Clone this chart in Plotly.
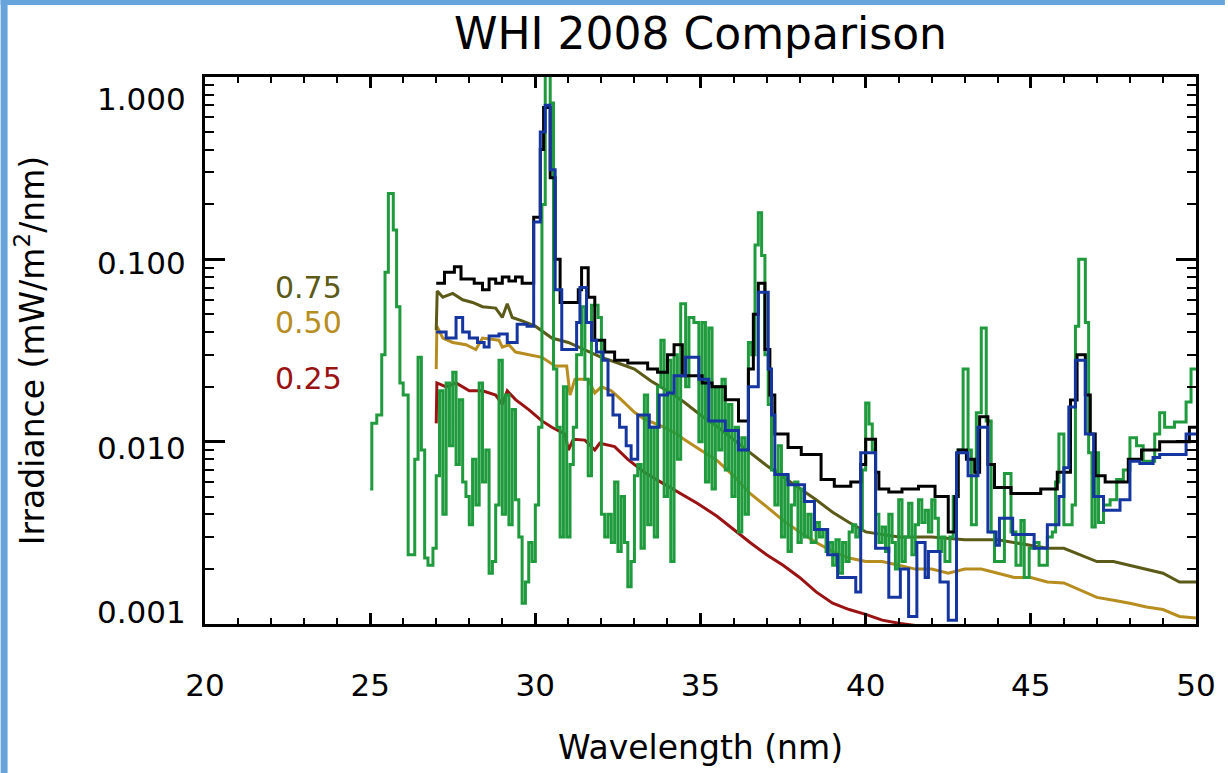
import math
import plotly.graph_objects as go

# ---------------- data ----------------
green_wl = [25.00, 25.05, 25.20, 25.35, 25.45, 25.55, 25.70, 25.80, 25.90, 26.00,
            26.15, 26.35, 26.45, 26.55, 26.65, 26.75, 26.90, 27.00, 27.10, 27.20,
            27.30, 27.40, 27.50, 27.60, 27.70, 27.80, 27.90, 28.00, 28.10, 28.20,
            28.30, 28.40, 28.50, 28.60, 28.70, 28.80, 28.90, 29.00, 29.10, 29.20,
            29.30, 29.40, 29.50, 29.60, 29.70, 29.80, 29.90, 30.00, 30.10, 30.20,
            30.30, 30.45, 30.55, 30.65, 30.75, 30.85, 30.95, 31.05, 31.15, 31.25,
            31.40, 31.50, 31.60, 31.70, 31.90, 32.00, 32.10, 32.20, 32.30, 32.40,
            32.50, 32.60, 32.70, 32.80, 32.90, 33.00, 33.10, 33.20, 33.30, 33.40,
            33.50, 33.60, 33.70, 33.80, 33.90, 34.00, 34.10, 34.20, 34.30, 34.40,
            34.55, 34.65, 34.80, 34.95, 35.05, 35.15, 35.25, 35.35, 35.45, 35.55,
            35.65, 35.75, 35.85, 35.95, 36.05, 36.15, 36.25, 36.35, 36.45, 36.55,
            36.65, 36.75, 36.85, 36.95, 37.05, 37.15, 37.25, 37.35, 37.45, 37.55,
            37.65, 37.75, 37.85, 37.95, 38.05, 38.15, 38.25, 38.35, 38.50, 38.60,
            38.70, 38.80, 38.90, 39.00, 39.10, 39.20, 39.30, 39.40, 39.50, 39.60,
            39.70, 39.80, 39.90, 40.00, 40.10, 40.20, 40.30, 40.40, 40.50, 40.60,
            40.70, 40.80, 40.90, 41.00, 41.10, 41.20, 41.30, 41.40, 41.50, 41.60,
            41.70, 41.80, 41.90, 42.00, 42.10, 42.20, 42.30, 42.40, 42.55, 42.65,
            42.80, 42.95, 43.10, 43.20, 43.35, 43.50, 43.65, 43.80, 43.90, 44.05,
            44.20, 44.40, 44.55, 44.70, 44.80, 44.95, 45.10, 45.25, 45.50, 45.65,
            45.75, 45.85, 46.00, 46.25, 46.35, 46.45, 46.65, 46.75, 46.85, 46.95,
            47.05, 47.20, 47.40, 47.60, 47.80, 48.00, 48.20, 48.40, 48.75, 48.90,
            49.05, 49.35, 49.70, 49.85, 50.00]
green_irr = [0.0055, 0.0126, 0.0140, 0.030, 0.085, 0.23, 0.145, 0.055, 0.021, 0.018,
             0.0024, 0.0080, 0.029, 0.0090, 0.0023, 0.0021, 0.0026, 0.0065, 0.019, 0.0040,
             0.021, 0.0095, 0.024, 0.0075, 0.017, 0.0060, 0.0050, 0.0035, 0.0080, 0.0045,
             0.021, 0.0060, 0.0090, 0.0019, 0.0022, 0.0045, 0.028, 0.0040, 0.018, 0.0035,
             0.0150, 0.0048, 0.0030, 0.0013, 0.0017, 0.0028, 0.0022, 0.0045, 0.012, 0.20,
             1.10, 0.72, 0.025, 0.012, 0.0030, 0.020, 0.0030, 0.0075, 0.012, 0.030,
             0.055, 0.022, 0.0065, 0.056, 0.048, 0.0040, 0.0030, 0.0040, 0.0028, 0.0060,
             0.0025, 0.0050, 0.0028, 0.0016, 0.0022, 0.0065, 0.0075, 0.0026, 0.018, 0.0035,
             0.012, 0.0030, 0.020, 0.036, 0.0050, 0.028, 0.0022, 0.030, 0.0080, 0.057,
             0.020, 0.048, 0.045, 0.010, 0.045, 0.0060, 0.042, 0.0055, 0.020, 0.0090,
             0.022, 0.0070, 0.016, 0.0050, 0.012, 0.0032, 0.0105, 0.0040, 0.035, 0.030,
             0.120, 0.18, 0.105, 0.030, 0.016, 0.0070, 0.0045, 0.0095, 0.0030, 0.0065,
             0.0025, 0.0045, 0.0060, 0.0028, 0.0055, 0.0030, 0.0040, 0.0028, 0.0036, 0.0030,
             0.0033, 0.0025, 0.0028, 0.0021, 0.0029, 0.0019, 0.0028, 0.0022, 0.0032, 0.0035,
             0.0030, 0.0033, 0.0070, 0.0163, 0.0125, 0.0090, 0.0040, 0.0028, 0.0034, 0.0025,
             0.0040, 0.0028, 0.0020, 0.0048, 0.0022, 0.0030, 0.0046, 0.0024, 0.0035, 0.0048,
             0.0036, 0.0042, 0.0032, 0.0048, 0.0038, 0.0025, 0.0030, 0.0022, 0.0030, 0.0050,
             0.0090, 0.025, 0.0090, 0.0035, 0.0144, 0.042, 0.013, 0.0032, 0.0022, 0.0022,
             0.0067, 0.0032, 0.0021, 0.0037, 0.0018, 0.0026, 0.0028, 0.0021, 0.0030, 0.0032,
             0.0060, 0.011, 0.0035, 0.0045, 0.043, 0.10, 0.045, 0.0087, 0.0034, 0.0087,
             0.0036, 0.0045, 0.0048, 0.0062, 0.0070, 0.0105, 0.0095, 0.0078, 0.011, 0.0144,
             0.012, 0.0128, 0.0165, 0.025, 0.025]

black_wl = [27.00, 27.25, 27.55, 27.75, 28.15, 28.40, 28.60, 28.80, 29.00, 29.20,
            29.40, 29.60, 29.95, 30.15, 30.25, 30.45, 30.60, 30.75, 31.30, 31.40,
            31.60, 31.80, 32.10, 32.40, 32.80, 33.10, 33.40, 33.70, 34.00, 34.20,
            34.45, 35.05, 35.35, 35.75, 36.15, 36.45, 36.60, 36.75, 36.95, 37.10,
            37.25, 37.65, 38.05, 38.65, 39.05, 39.55, 39.85, 40.00, 40.30, 40.40,
            40.70, 41.10, 41.60, 42.10, 42.50, 42.70, 42.80, 43.05, 43.30, 43.45,
            43.70, 43.90, 44.40, 45.30, 45.80, 46.20, 46.40, 46.65, 46.80, 46.95,
            47.25, 47.95, 48.35, 48.90, 49.80, 50.00]
black_irr = [0.074, 0.085, 0.091, 0.078, 0.074, 0.068, 0.078, 0.074, 0.080, 0.076,
             0.080, 0.074, 0.17, 0.40, 0.68, 0.28, 0.10, 0.058, 0.068, 0.090,
             0.062, 0.036, 0.031, 0.028, 0.027, 0.027, 0.025, 0.024, 0.030, 0.034,
             0.023, 0.021, 0.020, 0.017, 0.013, 0.025, 0.050, 0.074, 0.032, 0.018,
             0.011, 0.0093, 0.0085, 0.0062, 0.0057, 0.0060, 0.0075, 0.0103, 0.0068, 0.0055,
             0.0053, 0.0055, 0.0057, 0.0050, 0.0032, 0.0050, 0.0090, 0.0080, 0.0068, 0.0137,
             0.0075, 0.0056, 0.0052, 0.0055, 0.0068, 0.0169, 0.030, 0.018, 0.011, 0.0065,
             0.0060, 0.0080, 0.0090, 0.0100, 0.012, 0.012]

blue_wl = [27.00, 27.30, 27.60, 27.80, 28.00, 28.25, 28.45, 28.60, 28.90, 29.15,
           29.45, 29.75, 29.95, 30.15, 30.30, 30.45, 30.60, 30.80, 31.25, 31.35,
           31.55, 31.70, 31.85, 32.05, 32.20, 32.35, 32.55, 32.75, 32.90, 33.10,
           33.45, 33.75, 34.00, 34.20, 34.55, 34.95, 35.25, 35.75, 36.15, 36.45,
           36.75, 37.05, 37.15, 37.25, 37.65, 38.15, 38.45, 38.85, 39.15, 39.70,
           39.85, 40.30, 40.70, 41.05, 41.30, 41.55, 41.80, 41.90, 42.25, 42.50,
           42.75, 43.10, 43.40, 43.70, 43.95, 44.05, 44.45, 45.10, 45.50, 45.85,
           46.00, 46.15, 46.35, 46.65, 46.90, 47.20, 47.70, 48.00, 48.30, 48.70,
           48.90, 49.70, 50.00]
blue_irr = [0.040, 0.037, 0.048, 0.040, 0.037, 0.035, 0.033, 0.038, 0.039, 0.035,
            0.044, 0.043, 0.16, 0.50, 0.70, 0.31, 0.068, 0.032, 0.045, 0.070,
            0.045, 0.036, 0.031, 0.028, 0.018, 0.014, 0.012, 0.0095, 0.0080, 0.014,
            0.012, 0.018, 0.0185, 0.023, 0.029, 0.022, 0.013, 0.0115, 0.0090, 0.020,
            0.066, 0.025, 0.014, 0.0066, 0.0058, 0.0047, 0.0033, 0.0024, 0.0018, 0.0015,
            0.0087, 0.0026, 0.0014, 0.0020, 0.0011, 0.0028, 0.0018, 0.0025, 0.0017, 0.00105,
            0.0087, 0.0065, 0.012, 0.0032, 0.0027, 0.0038, 0.0031, 0.0026, 0.0035, 0.0050,
            0.0072, 0.0155, 0.028, 0.011, 0.0050, 0.0042, 0.0048, 0.0078, 0.0076, 0.0082,
            0.0085, 0.011, 0.011]

olive_wl = [27.00, 27.03, 27.20, 27.50, 27.80, 28.10, 28.40, 28.80, 29.00, 29.15,
            29.30, 29.60, 30.00, 30.50, 31.00, 31.50, 32.00, 32.50, 33.00, 33.50,
            34.00, 34.50, 35.00, 35.50, 36.00, 36.50, 37.00, 37.50, 38.00, 38.50,
            39.00, 39.50, 40.00, 40.50, 41.00, 42.00, 43.00, 44.00, 44.50, 45.00,
            45.50, 46.00, 46.50, 47.00, 47.50, 48.00, 48.50, 49.00, 49.50, 50.00]
olive_irr = [0.041, 0.067, 0.062, 0.065, 0.060, 0.058, 0.055, 0.054, 0.048, 0.057,
             0.048, 0.046, 0.043, 0.037, 0.035, 0.032, 0.029, 0.027, 0.025, 0.0215,
             0.019, 0.0165, 0.0140, 0.0121, 0.0102, 0.0087, 0.0074, 0.0064, 0.0055, 0.0048,
             0.0041, 0.0036, 0.0032, 0.0031, 0.0030, 0.0030, 0.0029, 0.0029, 0.0028, 0.0027,
             0.0026, 0.0026, 0.0024, 0.0022, 0.0022, 0.0021, 0.0020, 0.0019, 0.0017, 0.0017]

gold_wl = [27.00, 27.02, 27.20, 27.50, 27.90, 28.20, 28.40, 28.90, 29.00, 29.20,
           29.40, 29.80, 30.20, 30.60, 30.95, 31.05, 31.20, 31.60, 31.80, 32.00,
           32.30, 32.60, 33.00, 33.30, 33.80, 34.30, 34.50, 35.00, 35.50, 36.00,
           36.50, 37.00, 37.50, 38.00, 38.50, 39.00, 39.50, 40.00, 40.50, 41.00,
           41.50, 42.00, 42.50, 43.00, 43.50, 44.00, 44.50, 45.00, 45.50, 46.00,
           46.50, 47.00, 47.50, 48.00, 48.50, 49.00, 49.50, 50.00]
gold_irr = [0.025, 0.043, 0.037, 0.035, 0.034, 0.032, 0.037, 0.036, 0.033, 0.034,
            0.031, 0.030, 0.029, 0.026, 0.026, 0.018, 0.022, 0.022, 0.0185, 0.020,
            0.019, 0.017, 0.0145, 0.0133, 0.0122, 0.011, 0.0103, 0.0090, 0.0079, 0.0065,
            0.0052, 0.0044, 0.0037, 0.0032, 0.0028, 0.0025, 0.0023, 0.0022, 0.0022, 0.0021,
            0.0020, 0.0020, 0.0019, 0.0020, 0.0020, 0.0019, 0.0018, 0.0018, 0.0017, 0.00168,
            0.00153, 0.0014, 0.00135, 0.0013, 0.00124, 0.0012, 0.0011, 0.00108]

red_wl = [27.00, 27.02, 27.30, 27.60, 28.00, 28.40, 28.80, 29.00, 29.15, 29.40,
          29.80, 30.20, 30.50, 30.90, 31.00, 31.15, 31.50, 31.80, 31.95, 32.40,
          32.80, 33.30, 33.80, 34.30, 34.90, 35.50, 36.00, 36.50, 37.00, 37.50,
          38.00, 38.50, 39.00, 39.50, 40.00, 40.50, 41.00, 41.50, 42.00, 42.50, 43.00]
red_irr = [0.0126, 0.021, 0.020, 0.021, 0.019, 0.019, 0.018, 0.016, 0.019, 0.017,
           0.015, 0.013, 0.012, 0.011, 0.0090, 0.0103, 0.0102, 0.0090, 0.0098, 0.0094,
           0.0080, 0.0068, 0.0060, 0.0053, 0.0046, 0.0039, 0.0033, 0.0028, 0.0024, 0.0021,
           0.0018, 0.0015, 0.0013, 0.0012, 0.00113, 0.00105, 0.00101, 0.00098, 0.00095, 0.00093, 0.0009]

y_tick_vals = [1.0, 0.1, 0.01, 0.001]
y_tick_text = ["1.000", "0.100", "0.010", "0.001"]
x_tick_vals = [20, 25, 30, 35, 40, 45, 50]
level_labels = ["0.75", "0.50", "0.25"]
level_label_vals = [0.0700, 0.0450, 0.0223]

# ---------------- styling ----------------
FONT = "DejaVu Sans"
C_GREEN = "#1f9a3c"
C_BLACK = "#000000"
C_BLUE = "#1536a0"
C_OLIVE = "#5c5a18"
C_GOLD = "#b68d1e"
C_RED = "#9a1212"
BORDER_BLUE = "#68a4dc"

fig = go.Figure()
fig.add_trace(go.Scatter(x=red_wl, y=red_irr, mode="lines", line=dict(color=C_RED, width=3), name="0.25"))
fig.add_trace(go.Scatter(x=gold_wl, y=gold_irr, mode="lines", line=dict(color=C_GOLD, width=3), name="0.50"))
fig.add_trace(go.Scatter(x=olive_wl, y=olive_irr, mode="lines", line=dict(color=C_OLIVE, width=3), name="0.75"))
fig.add_trace(go.Scatter(x=green_wl, y=green_irr, mode="lines", line=dict(color=C_GREEN, width=3, shape="hv"), name="green"))
fig.add_trace(go.Scatter(x=black_wl, y=black_irr, mode="lines", line=dict(color=C_BLACK, width=3, shape="hv"), name="black"))
fig.add_trace(go.Scatter(x=blue_wl, y=blue_irr, mode="lines", line=dict(color=C_BLUE, width=3, shape="hv"), name="blue"))

L, R, T, B = 205, 29, 77, 149
W, H = 1228, 773
pw, ph = W - L - R, H - T - B

minor_y = [m * 10.0 ** e for e in (-3, -2, -1) for m in range(2, 10)]

fig.update_layout(
    width=W, height=H,
    margin=dict(l=L, r=R, t=T, b=B),
    paper_bgcolor="white", plot_bgcolor="white",
    showlegend=False,
    font=dict(family=FONT, color="black"),
    title=dict(text="WHI 2008 Comparison", x=(702 - L) / pw, xref="paper", xanchor="center",
               y=1 - 34 / H, yref="container", yanchor="middle",
               font=dict(family=FONT, size=44, color="black")),
    xaxis=dict(range=[20, 50], tickvals=x_tick_vals, ticks="inside", ticklen=11, tickwidth=2.5,
               tickcolor="black", showline=True, linecolor="black", linewidth=3, mirror="ticks",
               showgrid=False, zeroline=False, tickfont=dict(family=FONT, size=31),
               ticklabelstandoff=32,
               minor=dict(dtick=1, ticks="inside", ticklen=6, tickwidth=2, tickcolor="black", showgrid=False),
               title=dict(text="Wavelength (nm)", font=dict(family=FONT, size=33), standoff=34)),
    yaxis=dict(type="log", range=[-3, 0], tickvals=y_tick_vals, ticktext=y_tick_text,
               showticklabels=False, ticks="inside", ticklen=20, tickwidth=2.5, tickcolor="black",
               showline=True, linecolor="black", linewidth=3, mirror="ticks", showgrid=False,
               zeroline=False,
               minor=dict(tickvals=minor_y, ticks="inside", ticklen=9, tickwidth=2, tickcolor="black", showgrid=False),
               title=dict(text="Irradiance (mW/m<sup>2</sup>/nm)", font=dict(family=FONT, size=33), standoff=148)),
)

# y tick labels (offset as in the original rendering)
y_shifts = [-22, -4, -6, 12]
for v, t, s in zip(y_tick_vals, y_tick_text, y_shifts):
    fig.add_annotation(x=0, xref="paper", xanchor="right", xshift=-17, y=math.log10(v), yref="y",
                       yanchor="middle", yshift=s, text=t, showarrow=False,
                       font=dict(family=FONT, size=31, color="black"))

# level labels
for t, v, c in zip(level_labels, level_label_vals, [C_OLIVE, C_GOLD, C_RED]):
    fig.add_annotation(x=22.05, xref="x", xanchor="left", y=math.log10(v), yref="y", yanchor="middle",
                       text=t, showarrow=False, font=dict(family=FONT, size=30, color=c))

# blue frame at the left and top edges of the picture
fig.add_shape(type="rect", xref="paper", yref="paper", x0=-L / pw, x1=(7 - L) / pw,
              y0=-B / ph, y1=1 + T / ph, fillcolor=BORDER_BLUE, line=dict(width=0), layer="below")
fig.add_shape(type="rect", xref="paper", yref="paper", x0=-L / pw, x1=1 + R / pw,
              y0=1 + (T - 5) / ph, y1=1 + T / ph, fillcolor=BORDER_BLUE, line=dict(width=0), layer="below")

fig.write_html("out.html")
